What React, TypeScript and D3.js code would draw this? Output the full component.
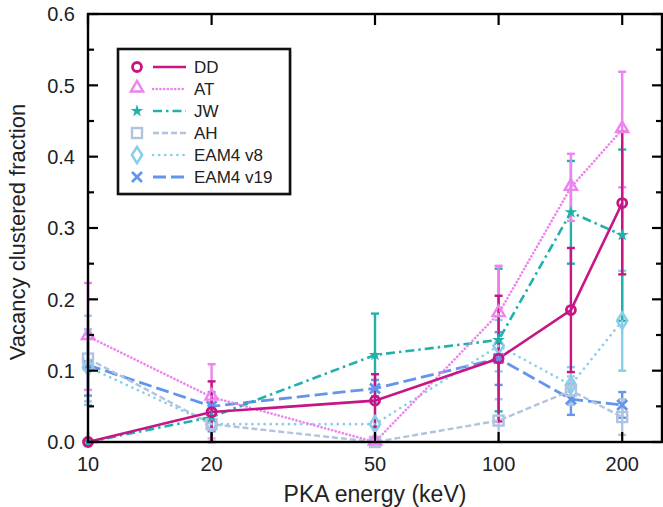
import React from "react";
import * as d3 from "d3";

const energies = [10, 20, 50, 100, 150, 200];
const seriesNames = ["DD", "AT", "JW", "AH", "EAM4 v8", "EAM4 v19"];

const ddValues = [0.0, 0.042, 0.058, 0.117, 0.185, 0.335];
const ddErr = [0.0, 0.043, 0.037, 0.088, 0.087, 0.1];
const atValues = [0.148, 0.063, 0.0, 0.18, 0.357, 0.438];
const atErr = [0.075, 0.046, 0.0, 0.067, 0.047, 0.081];
const jwValues = [0.0, 0.035, 0.122, 0.143, 0.322, 0.29];
const jwErr = [0.0, 0.02, 0.058, 0.1, 0.072, 0.12];
const ahValues = [0.117, 0.025, 0.0, 0.03, 0.072, 0.035];
const ahErr = [0.06, 0.02, 0.0, 0.03, 0.02, 0.025];
const v8Values = [0.105, 0.025, 0.025, 0.135, 0.08, 0.17];
const v8Err = [0.053, 0.025, 0.03, 0.036, 0.025, 0.07];
const v19Values = [0.108, 0.05, 0.075, 0.117, 0.06, 0.052];
const v19Err = [0.043, 0.02, 0.012, 0.037, 0.022, 0.018];

const yTicks = [0, 0.1, 0.2, 0.3, 0.4, 0.5, 0.6];
const xTicks = [10, 20, 50, 100, 200];

const W = 663;
const H = 507;
const FONT = "'Liberation Sans', Arial, Helvetica, sans-serif";

type Style = {
  color: string;
  dash: string;
  width: number;
  marker: string;
  round: boolean;
};

const styles: Style[] = [
  { color: "#c71585", dash: "none", width: 2.6, marker: "circle", round: false },
  { color: "#ee82ee", dash: "0.1 3.6", width: 2.6, marker: "triangle", round: true },
  { color: "#20b2aa", dash: "9 4 2.5 4", width: 2.6, marker: "star", round: false },
  { color: "#b0c4de", dash: "6 3", width: 2.4, marker: "square", round: false },
  { color: "#87ceeb", dash: "0.1 6", width: 2.6, marker: "diamond", round: true },
  { color: "#6495ed", dash: "13 5", width: 2.8, marker: "cross", round: false },
];

const allValues = [ddValues, atValues, jwValues, ahValues, v8Values, v19Values];
const allErr = [ddErr, atErr, jwErr, ahErr, v8Err, v19Err];

const x = d3.scaleLog().domain([10, 250]).range([88, 662]);
const y = d3.scaleLinear().domain([0, 0.6]).range([442, 14]);

function Marker({ kind, cx, cy, color }: { kind: string; cx: number; cy: number; color: string }) {
  const sw = 2.4;
  if (kind === "circle")
    return <circle cx={cx} cy={cy} r={4.5} fill="none" stroke={color} strokeWidth={2.8} />;
  if (kind === "triangle") {
    const p = d3.symbol().type(d3.symbolTriangle).size(65)();
    return <path d={p as string} transform={`translate(${cx},${cy - 1})`} fill="none" stroke={color} strokeWidth={sw} />;
  }
  if (kind === "star") {
    const p = d3.symbol().type(d3.symbolStar).size(50)();
    return <path d={p as string} transform={`translate(${cx},${cy})`} fill={color} stroke="none" />;
  }
  if (kind === "square")
    return <rect x={cx - 5} y={cy - 5} width={10} height={10} fill="none" stroke={color} strokeWidth={sw} />;
  if (kind === "diamond") {
    const p = d3.symbol().type(d3.symbolDiamond).size(75)();
    return <path d={p as string} transform={`translate(${cx},${cy}) scale(1.1,1)`} fill="none" stroke={color} strokeWidth={sw} />;
  }
  const s = 5;
  return (
    <path
      d={`M${cx - s},${cy - s}L${cx + s},${cy + s}M${cx - s},${cy + s}L${cx + s},${cy - s}`}
      stroke={color}
      strokeWidth={2.8}
      fill="none"
    />
  );
}

export default function App() {
  const line = d3
    .line<number>()
    .x((_, i) => x(energies[i]))
    .y((d) => y(d));

  const order = [5, 4, 3, 2, 1, 0];
  const minorY = d3.range(0.05, 0.6, 0.1);

  return (
    <svg
      width={W}
      height={H}
      style={{ position: "absolute", left: 0, top: 0, background: "#fff" }}
      fontFamily={FONT}
    >
      <rect x={0} y={0} width={W} height={H} fill="#fff" />
      {/* error bars */}
      {order.map((si) => {
        const st = styles[si];
        return (
          <g key={"e" + si}>
            {allValues[si].map((v, i) => {
              const e = allErr[si][i];
              if (e <= 0) return null;
              const lo = Math.max(0, v - e);
              const hi = Math.min(0.6, v + e);
              const cx = x(energies[i]);
              return (
                <g key={i} stroke={st.color} strokeWidth={2.4}>
                  <line x1={cx} x2={cx} y1={y(lo)} y2={y(hi)} />
                  <line x1={cx - 4} x2={cx + 4} y1={y(lo)} y2={y(lo)} />
                  <line x1={cx - 4} x2={cx + 4} y1={y(hi)} y2={y(hi)} />
                </g>
              );
            })}
          </g>
        );
      })}
      {/* lines */}
      {order.map((si) => {
        const st = styles[si];
        return (
          <path
            key={"l" + si}
            d={line(allValues[si]) as string}
            fill="none"
            stroke={st.color}
            strokeWidth={st.width}
            strokeDasharray={st.dash}
            strokeLinecap={st.round ? "round" : "butt"}
          />
        );
      })}
      {/* markers */}
      {order.map((si) => {
        const st = styles[si];
        return (
          <g key={"m" + si}>
            {allValues[si].map((v, i) => (
              <Marker key={i} kind={st.marker} cx={x(energies[i])} cy={y(v)} color={st.color} />
            ))}
          </g>
        );
      })}

      {/* frame */}
      <rect x={88} y={14} width={662 - 88} height={442 - 14} fill="none" stroke="#000" strokeWidth={2.4} />
      {yTicks.map((t) => (
        <g key={"yt" + t}>
          <line x1={88} x2={98} y1={y(t)} y2={y(t)} stroke="#000" strokeWidth={2.2} />
          <line x1={652} x2={662} y1={y(t)} y2={y(t)} stroke="#000" strokeWidth={2.2} />
          <text x={75} y={y(t)} dy="0.36em" textAnchor="end" fontSize={20} fill="#222">
            {t.toFixed(1)}
          </text>
        </g>
      ))}
      {minorY.map((t) => (
        <g key={"ym" + t}>
          <line x1={88} x2={94} y1={y(t)} y2={y(t)} stroke="#000" strokeWidth={2.2} />
          <line x1={656} x2={662} y1={y(t)} y2={y(t)} stroke="#000" strokeWidth={2.2} />
        </g>
      ))}
      {xTicks.map((t) => (
        <g key={"xt" + t}>
          <line x1={x(t)} x2={x(t)} y1={442} y2={432} stroke="#000" strokeWidth={2.2} />
          <line x1={x(t)} x2={x(t)} y1={14} y2={25} stroke="#000" strokeWidth={2.2} />
          <text x={x(t)} y={471} textAnchor="middle" fontSize={20} fill="#222">
            {t}
          </text>
        </g>
      ))}
      <text x={375} y={502} textAnchor="middle" fontSize={23} fill="#222">
        PKA energy (keV)
      </text>
      <text transform={`translate(25,232) rotate(-90)`} textAnchor="middle" fontSize={22} fill="#222">
        Vacancy clustered fraction
      </text>

      {/* legend */}
      <rect x={120} y={51} width={172} height={145} fill="#ccc" opacity={0.6} />
      <rect x={118} y={49} width={172} height={145} fill="#fff" stroke="#111" strokeWidth={2.6} />
      {seriesNames.map((name, i) => {
        const st = styles[i];
        const cy = 67 + i * 22;
        return (
          <g key={"lg" + i}>
            <Marker kind={st.marker} cx={137} cy={cy} color={st.color} />
            <line
              x1={153}
              x2={186}
              y1={cy}
              y2={cy}
              stroke={st.color}
              strokeWidth={st.width}
              strokeDasharray={st.dash}
              strokeLinecap={st.round ? "round" : "butt"}
            />
            <text x={194} y={cy} dy="0.36em" fontSize={17} fill="#222">
              {name}
            </text>
          </g>
        );
      })}
    </svg>
  );
}
